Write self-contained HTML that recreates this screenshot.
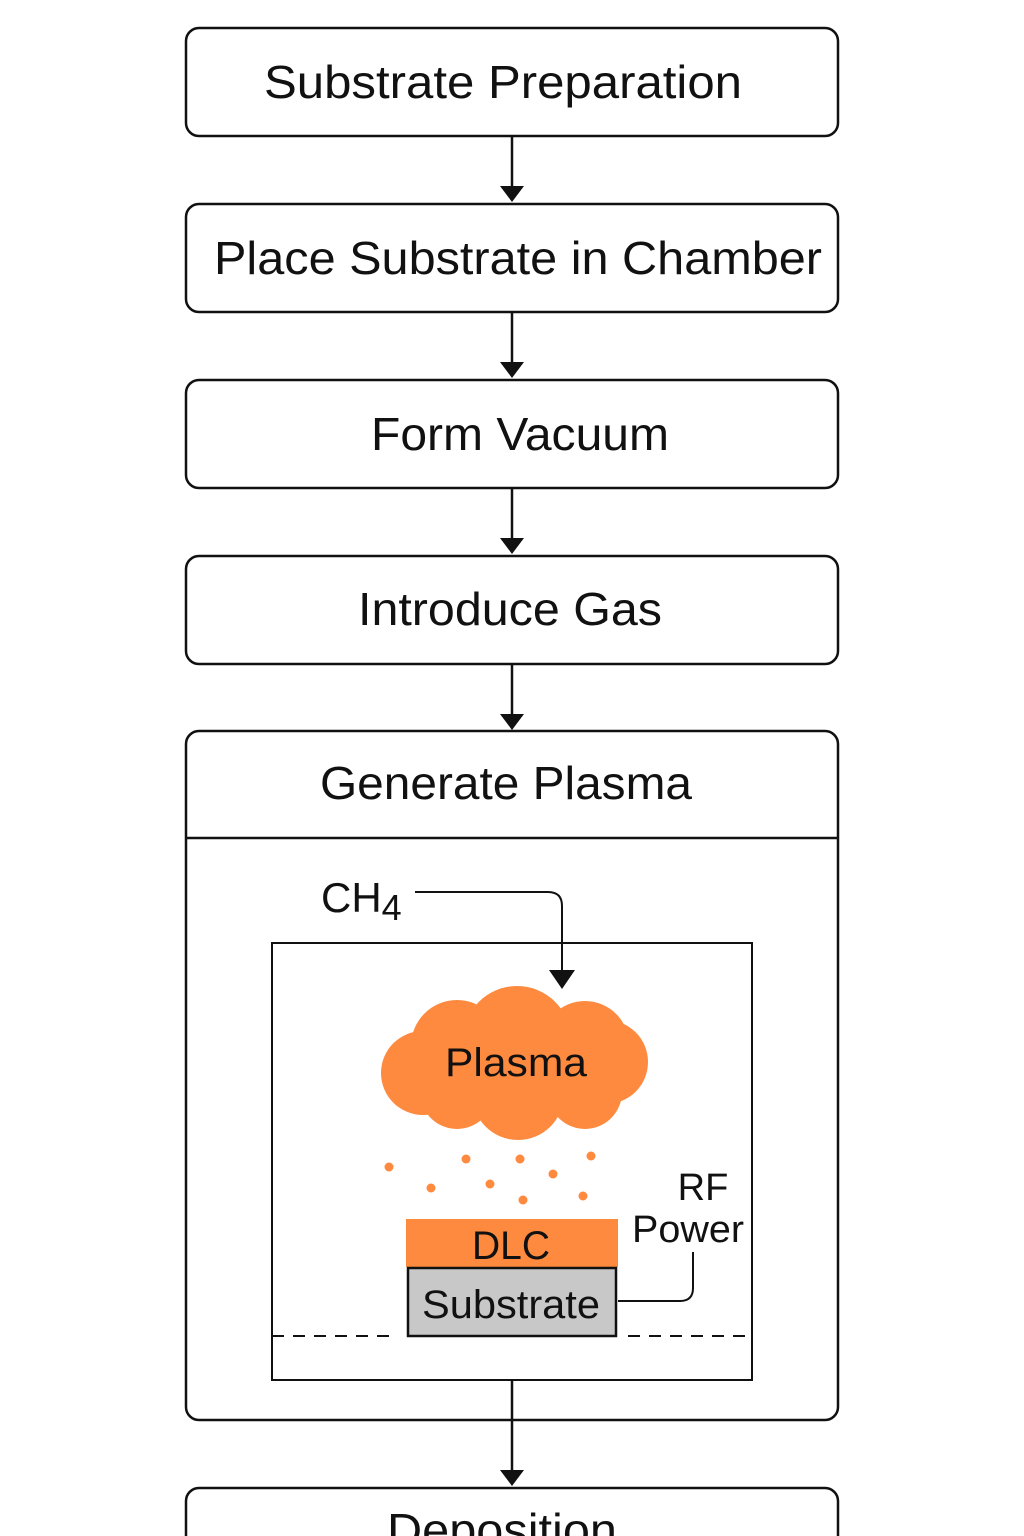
<!DOCTYPE html>
<html><head><style>html,body{margin:0;padding:0;background:#fff;}svg{display:block}</style></head>
<body>
<svg width="1024" height="1536" viewBox="0 0 1024 1536" xmlns="http://www.w3.org/2000/svg" font-family="Liberation Sans, sans-serif">
<g fill="none" stroke="#111" stroke-width="2.5">
<rect x="186" y="28" width="652" height="108" rx="13"/>
<rect x="186" y="204" width="652" height="108" rx="13"/>
<rect x="186" y="380" width="652" height="108" rx="13"/>
<rect x="186" y="556" width="652" height="108" rx="13"/>
<rect x="186" y="731" width="652" height="689" rx="13"/>
<line x1="186" y1="838" x2="838" y2="838"/>
<rect x="186" y="1488" width="652" height="108" rx="13"/>
<line x1="512" y1="136" x2="512" y2="188"/>
<line x1="512" y1="312" x2="512" y2="364"/>
<line x1="512" y1="488" x2="512" y2="540"/>
<line x1="512" y1="664" x2="512" y2="716"/>
<line x1="512" y1="1380" x2="512" y2="1472"/>
<rect x="272" y="943" width="480" height="437" stroke-width="2"/>
<line x1="272" y1="1336" x2="396" y2="1336" stroke-dasharray="12,9" stroke-width="2"/>
<line x1="628" y1="1336" x2="752" y2="1336" stroke-dasharray="12,9" stroke-width="2"/>
<path d="M415 892 H548 Q562 892 562 906 V972" stroke-width="2"/>
<path d="M618 1301 H680 Q693 1301 693 1288 V1252" stroke-width="2"/>
</g>
<g fill="#111">
<path d="M500 186 L524 186 L512 202 Z"/>
<path d="M500 362 L524 362 L512 378 Z"/>
<path d="M500 538 L524 538 L512 554 Z"/>
<path d="M500 714 L524 714 L512 730 Z"/>
<path d="M500 1470 L524 1470 L512 1486 Z"/>
<path d="M549 970 L575 970 L562 989 Z"/>
</g>
<g fill="#fd8a3e">
<circle cx="517" cy="1040" r="54"/>
<circle cx="457" cy="1046" r="46"/>
<circle cx="585" cy="1045" r="44"/>
<circle cx="423" cy="1073" r="42"/>
<circle cx="606" cy="1062" r="42"/>
<circle cx="457" cy="1092" r="37"/>
<circle cx="518" cy="1094" r="46"/>
<circle cx="585" cy="1092" r="37"/>
<circle cx="520" cy="1065" r="60"/>
<circle cx="389" cy="1167" r="4.5"/><circle cx="466" cy="1159" r="4.5"/><circle cx="520" cy="1159" r="4.5"/>
<circle cx="591" cy="1156" r="4.5"/><circle cx="431" cy="1188" r="4.5"/><circle cx="490" cy="1184" r="4.5"/>
<circle cx="553" cy="1174" r="4.5"/><circle cx="523" cy="1200" r="4.5"/><circle cx="583" cy="1196" r="4.5"/>
<rect x="406" y="1219" width="212" height="48"/>
</g>
<rect x="408" y="1268" width="208" height="68" fill="#c8c8c8" stroke="#111" stroke-width="2.5"/>
<g fill="#111" font-size="46" text-anchor="middle">
<text x="503" y="98" textLength="478" lengthAdjust="spacingAndGlyphs">Substrate Preparation</text>
<text x="518" y="274" textLength="608" lengthAdjust="spacingAndGlyphs">Place Substrate in Chamber</text>
<text x="520" y="450" textLength="298" lengthAdjust="spacingAndGlyphs">Form Vacuum</text>
<text x="510" y="625" textLength="304" lengthAdjust="spacingAndGlyphs">Introduce Gas</text>
<text x="506" y="799" textLength="372" lengthAdjust="spacingAndGlyphs">Generate Plasma</text>
<text x="502" y="1546" textLength="230" lengthAdjust="spacingAndGlyphs">Deposition</text>
<text x="516" y="1076" font-size="40" textLength="142" lengthAdjust="spacingAndGlyphs">Plasma</text>
<text x="511" y="1259" font-size="40" textLength="78" lengthAdjust="spacingAndGlyphs">DLC</text>
<text x="511" y="1318" font-size="40" textLength="178" lengthAdjust="spacingAndGlyphs">Substrate</text>
<text x="703" y="1200" font-size="38">RF</text>
<text x="688" y="1242" font-size="38" textLength="112" lengthAdjust="spacingAndGlyphs">Power</text>
</g>
<text x="321" y="912" font-size="42" fill="#111">CH<tspan font-size="36" dy="8">4</tspan></text>
</svg>
</body></html>
